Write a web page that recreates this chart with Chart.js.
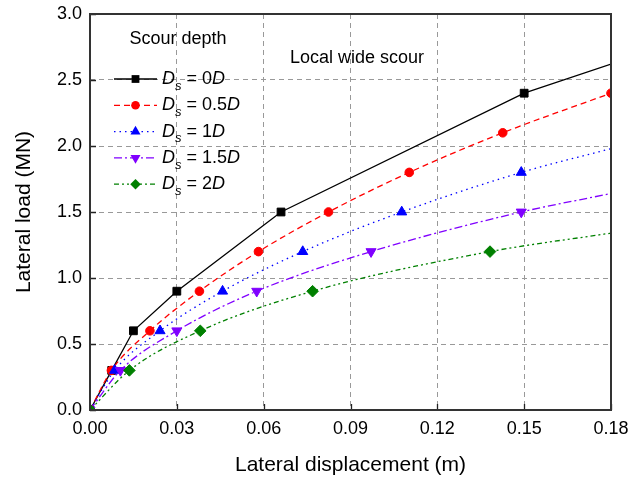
<!DOCTYPE html>
<html>
<head>
<meta charset="utf-8">
<script src="https://cdn.jsdelivr.net/npm/chart.js@4/dist/chart.umd.min.js"></script>
<style>
  html, body { margin: 0; padding: 0; background: #fff; }
  #wrap { width: 642px; height: 481px; position: relative; }
</style>
</head>
<body>
<div id="wrap"><canvas id="myChart" width="642" height="481"></canvas></div>
<script>
// values
const xTicks = [0, 0.03, 0.06, 0.09, 0.12, 0.15, 0.18];
const yTicks = [0, 0.5, 1.0, 1.5, 2.0, 2.5, 3.0];

const seriesNames = ["0", "0.5", "1", "1.5", "2"];

const disp0D = [0, 0.0075, 0.015, 0.03, 0.066, 0.15, 0.18];
const load0D = [0, 0.3, 0.6, 0.9, 1.5, 2.4, 2.62];

const disp05D = [0, 0.0074, 0.0207, 0.0378, 0.0582, 0.0824, 0.1103, 0.1426, 0.18];
const load05D = [0, 0.3, 0.6, 0.9, 1.2, 1.5, 1.8, 2.1, 2.4];

const disp1D = [0, 0.0085, 0.0242, 0.0458, 0.0735, 0.1077, 0.149, 0.18];
const load1D = [0, 0.3, 0.6, 0.9, 1.2, 1.5, 1.8, 1.98];

const disp15D = [0, 0.0105, 0.03, 0.0576, 0.0971, 0.149, 0.18];
const load15D = [0, 0.3, 0.6, 0.9, 1.2, 1.5, 1.64];

const disp2D = [0, 0.0136, 0.0381, 0.0769, 0.1382, 0.18];
const load2D = [0, 0.3, 0.6, 0.9, 1.2, 1.34];

const FONT = '"Liberation Sans", Arial, sans-serif';

const toPoints = (xs, ys) => xs.map((x, i) => ({ x: x, y: ys[i] }));
// last point of most curves is just the line end, no marker
const radii = (n, r, lastMarker) => Array.from({ length: n }, (_, i) => (i === n - 1 && !lastMarker ? 0 : r));

const styles = [
  { color: "#000000", dash: [], style: "rect", rot: 0, r: 5.5, mode: "default" },
  { color: "#ff0000", dash: [6, 4], style: "circle", rot: 0, r: 4.3, mode: "monotone" },
  { color: "#0000ff", dash: [1.5, 4], style: "triangle", rot: 0, r: 5.8, mode: "monotone" },
  { color: "#8000ff", dash: [8, 3, 2, 3], style: "triangle", rot: 180, r: 5.8, mode: "monotone" },
  { color: "#008000", dash: [5, 3, 2, 3, 2, 3], style: "rectRot", rot: 0, r: 5.8, mode: "monotone" },
];

const allX = [disp0D, disp05D, disp1D, disp15D, disp2D];
const allY = [load0D, load05D, load1D, load15D, load2D];
const lastMarker = [false, true, false, false, false];

const datasets = allX.map((xs, i) => {
  const s = styles[i];
  return {
    label: seriesNames[i],
    data: toPoints(xs, allY[i]),
    borderColor: s.color,
    backgroundColor: s.color,
    borderWidth: 1.3,
    borderDash: s.dash,
    pointStyle: s.style,
    pointRotation: s.rot,
    pointRadius: radii(xs.length, s.r, lastMarker[i]),
    pointBorderWidth: 1,
    tension: 0,
    cubicInterpolationMode: s.mode,
    order: 5 - i,
  };
});

const drawMarker = (ctx, s, x, y) => {
  ctx.save();
  ctx.fillStyle = s.color;
  ctx.strokeStyle = s.color;
  ctx.setLineDash([]);
  ctx.beginPath();
  if (s.style === "rect") {
    const h = s.r * Math.SQRT1_2;
    ctx.rect(x - h, y - h, 2 * h, 2 * h);
  } else if (s.style === "circle") {
    ctx.arc(x, y, s.r, 0, Math.PI * 2);
  } else if (s.style === "triangle") {
    const sign = s.rot === 180 ? -1 : 1;
    const w = s.r * Math.sin(Math.PI / 3);
    ctx.moveTo(x, y - sign * s.r);
    ctx.lineTo(x + w, y + sign * s.r / 2);
    ctx.lineTo(x - w, y + sign * s.r / 2);
    ctx.closePath();
  } else {
    const d = s.r * 0.9;
    ctx.moveTo(x, y - d);
    ctx.lineTo(x + d, y);
    ctx.lineTo(x, y + d);
    ctx.lineTo(x - d, y);
    ctx.closePath();
  }
  ctx.fill();
  ctx.restore();
};

const framePlugin = {
  id: "frame",
  beforeDraw(chart) {
    const ctx = chart.ctx;
    ctx.save();
    ctx.fillStyle = "#fff";
    ctx.fillRect(0, 0, chart.width, chart.height);
    ctx.restore();
  },
  afterDraw(chart) {
    const ctx = chart.ctx;
    const a = chart.chartArea;
    const xs = chart.scales.x, ys = chart.scales.y;
    ctx.save();
    // inward ticks
    ctx.strokeStyle = "#222";
    ctx.lineWidth = 1.3;
    ctx.setLineDash([]);
    ctx.beginPath();
    xTicks.forEach(v => {
      const px = Math.round(xs.getPixelForValue(v)) + 0.5;
      ctx.moveTo(px, a.bottom);
      ctx.lineTo(px, a.bottom - 6);
    });
    yTicks.forEach(v => {
      const py = Math.round(ys.getPixelForValue(v)) + 0.5;
      ctx.moveTo(a.left, py);
      ctx.lineTo(a.left + 6, py);
    });
    ctx.stroke();
    // box
    ctx.strokeStyle = "#333";
    ctx.lineWidth = 2;
    ctx.strokeRect(a.left, a.top, a.right - a.left, a.bottom - a.top);

    // legend
    ctx.fillStyle = "#000";
    ctx.textBaseline = "middle";
    ctx.textAlign = "center";
    ctx.font = "18px " + FONT;
    ctx.fillText("Scour depth", 178, 39);
    ctx.fillText("Local wide scour", 357, 58);

    ctx.textAlign = "left";
    styles.forEach((s, i) => {
      const y = 79 + i * 26.3;
      ctx.save();
      ctx.strokeStyle = s.color;
      ctx.lineWidth = 1.3;
      ctx.setLineDash(s.dash);
      ctx.beginPath();
      ctx.moveTo(114, y);
      ctx.lineTo(157, y);
      ctx.stroke();
      ctx.restore();
      drawMarker(ctx, s, 135.5, y);

      let x = 162;
      ctx.font = "italic 18px " + FONT;
      ctx.fillText("D", x, y);
      x += ctx.measureText("D").width;
      ctx.font = "italic 13px " + FONT;
      ctx.fillText("s", x, y + 7);
      x += ctx.measureText("s").width;
      ctx.font = "18px " + FONT;
      const t = " = " + seriesNames[i];
      ctx.fillText(t, x, y);
      x += ctx.measureText(t).width;
      ctx.font = "italic 18px " + FONT;
      ctx.fillText("D", x, y);
    });
    ctx.restore();
  },
};

const ctx = document.getElementById("myChart");
new Chart(ctx, {
  type: "line",
  data: { datasets: datasets },
  options: {
    responsive: false,
    animation: false,
    layout: { padding: { top: 14, right: 31, left: 0, bottom: 0 } },
    plugins: { legend: { display: false }, tooltip: { enabled: false } },
    scales: {
      x: {
        type: "linear",
        min: 0,
        max: 0.18,
        afterBuildTicks: (scale) => { scale.ticks = xTicks.map(v => ({ value: v })); },
        afterFit: (scale) => { scale.height = 71; scale.paddingRight = 0; scale.paddingLeft = 0; },
        ticks: {
          color: "#000",
          padding: 8,
          font: { family: FONT, size: 18 },
          callback: (v) => Number(v).toFixed(2),
        },
        grid: { color: "#999", lineWidth: 1, drawTicks: false },
        border: { display: false, dash: [5, 4] },
        title: {
          display: true,
          text: "Lateral displacement (m)",
          color: "#000",
          font: { family: FONT, size: 21 },
          padding: { top: 0, bottom: 3 },
        },
      },
      y: {
        type: "linear",
        min: 0,
        max: 3,
        afterBuildTicks: (scale) => { scale.ticks = yTicks.map(v => ({ value: v })); },
        afterFit: (scale) => { scale.width = 90; scale.paddingTop = 0; scale.paddingBottom = 0; },
        ticks: {
          color: "#000",
          padding: 8,
          font: { family: FONT, size: 18 },
          callback: (v) => Number(v).toFixed(1),
        },
        grid: { color: "#999", lineWidth: 1, drawTicks: false },
        border: { display: false, dash: [5, 4] },
        title: {
          display: true,
          text: "Lateral load (MN)",
          color: "#000",
          font: { family: FONT, size: 21 },
          padding: { top: 12, bottom: 0 },
        },
      },
    },
  },
  plugins: [framePlugin],
});
</script>
</body>
</html>
